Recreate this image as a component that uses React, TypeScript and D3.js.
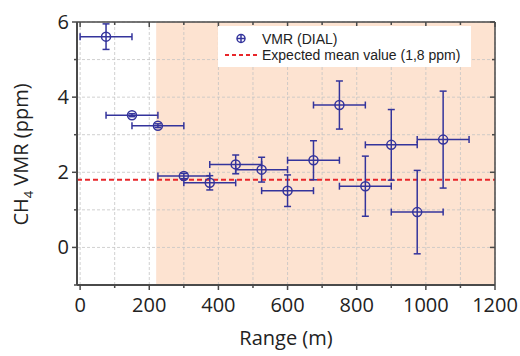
import React from 'react';
import * as d3 from 'd3';

// CH4 VMR retrieved by DIAL vs range
const ranges = [75, 150, 225, 300, 375, 450, 525, 600, 675, 750, 825, 900, 975, 1050];
const vmr = [5.61, 3.52, 3.24, 1.9, 1.72, 2.21, 2.07, 1.51, 2.32, 3.79, 1.63, 2.73, 0.94, 2.87];
const vmrErr = [0.34, 0.04, 0.05, 0.07, 0.19, 0.25, 0.33, 0.42, 0.52, 0.64, 0.8, 0.94, 1.11, 1.29];
const rangeErr = [75, 75, 75, 75, 75, 75, 75, 75, 75, 75, 75, 75, 75, 75];

const expectedMean = 1.8;
const shadeStart = 220;
const xTicks = [0, 200, 400, 600, 800, 1000, 1200];
const yTicks = [0, 2, 4, 6];
const xMinor = d3.range(0, 1201, 100);
const yMinor = d3.range(-1, 7, 1);

const width = 520;
const height = 356;
const margin = { top: 22, right: 25, bottom: 71, left: 77 };

const blue = '#34349c';
const axisColor = '#4a4a4a';
const font = '"Open Sans", sans-serif';

const App = () => {
    const x = d3.scaleLinear().domain([-9, 1200]).range([margin.left, width - margin.right]);
    const y = d3.scaleLinear().domain([-1, 6]).range([height - margin.bottom, margin.top]);
    const [x0, x1] = x.range();
    const [y0, y1] = y.range(); // y0 bottom, y1 top

    const points = ranges.map((r, i) => ({ r, v: vmr[i], ve: vmrErr[i], re: rangeErr[i] }));
    const cap = 3.5;

    return (
        <svg width={width} height={height} style={{ position: 'absolute', left: 0, top: 0 }}>
            <rect width={width} height={height} fill="#fff" />
            {/* shaded region */}
            <rect x={x(shadeStart)} y={y1} width={x1 - x(shadeStart)} height={y0 - y1} fill="#fde3d1" />

            {/* grid */}
            <g stroke="#c4c4c4" strokeWidth={0.8} strokeDasharray="3,2">
                {xMinor.map(t => (
                    <line key={'gx' + t} x1={x(t)} x2={x(t)} y1={y1} y2={y0} />
                ))}
                {yMinor.map(t => (
                    <line key={'gy' + t} x1={x0} x2={x1} y1={y(t)} y2={y(t)} />
                ))}
            </g>

            {/* expected mean */}
            <line x1={x0} x2={x1} y1={y(expectedMean)} y2={y(expectedMean)}
                stroke="#e8262a" strokeWidth={2} strokeDasharray="5,3" />

            {/* data with error bars */}
            <g stroke={blue} strokeWidth={1.5} fill="none">
                {points.map((d, i) => {
                    const cx = x(d.r);
                    const cy = y(d.v);
                    const xl = x(d.r - d.re);
                    const xr = x(d.r + d.re);
                    const yt = y(d.v + d.ve);
                    const yb = y(d.v - d.ve);
                    return (
                        <g key={i}>
                            <line x1={xl} x2={xr} y1={cy} y2={cy} />
                            <line x1={xl} x2={xl} y1={cy - cap} y2={cy + cap} />
                            <line x1={xr} x2={xr} y1={cy - cap} y2={cy + cap} />
                            <line x1={cx} x2={cx} y1={yt} y2={yb} />
                            <line x1={cx - cap} x2={cx + cap} y1={yt} y2={yt} />
                            <line x1={cx - cap} x2={cx + cap} y1={yb} y2={yb} />
                            <circle cx={cx} cy={cy} r={4.5} fill="#fde3d1" fillOpacity={0} />
                        </g>
                    );
                })}
            </g>

            {/* axes frame */}
            <line x1={x0} x2={x1} y1={y1} y2={y1} stroke={axisColor} strokeWidth={1.5} />
            <line x1={x1} x2={x1} y1={y1} y2={y0} stroke={axisColor} strokeWidth={1.5} />
            <line x1={x0} x2={x1} y1={y0} y2={y0} stroke={axisColor} strokeWidth={2} />
            <line x1={x0} x2={x0} y1={y1} y2={y0} stroke={axisColor} strokeWidth={2} />

            {/* x ticks */}
            <g stroke={axisColor} strokeWidth={1.5}>
                {xMinor.map(t => {
                    const major = xTicks.includes(t);
                    const len = major ? 5 : 3;
                    return (
                        <g key={'tx' + t}>
                            <line x1={x(t)} x2={x(t)} y1={y0} y2={y0 + len} />
                            <line x1={x(t)} x2={x(t)} y1={y1} y2={y1 + len} />
                        </g>
                    );
                })}
                {yMinor.map(t => {
                    const major = yTicks.includes(t);
                    const len = major ? 5 : 3;
                    return (
                        <g key={'ty' + t}>
                            <line x1={x0} x2={x0 - len} y1={y(t)} y2={y(t)} />
                            <line x1={x1} x2={x1 - len} y1={y(t)} y2={y(t)} />
                        </g>
                    );
                })}
            </g>

            {/* tick labels */}
            <g fontFamily={font} fontSize={20} fill="#222">
                {xTicks.map(t => (
                    <text key={'lx' + t} x={x(t)} y={y0 + 27} textAnchor="middle">{t}</text>
                ))}
                {yTicks.map(t => (
                    <text key={'ly' + t} x={x0 - 8} y={y(t) + 7} textAnchor="end">{t}</text>
                ))}
            </g>

            {/* axis titles */}
            <text x={(x0 + x1) / 2} y={height - 11} textAnchor="middle" fontFamily={font} fontSize={20} fill="#222">
                Range (m)
            </text>
            <text transform={`translate(28,${(y0 + y1) / 2 + 1}) rotate(-90)`} textAnchor="middle"
                fontFamily={font} fontSize={20} fill="#222">
                CH<tspan fontSize={13} dy={5}>4</tspan><tspan dy={-5}> VMR (ppm)</tspan>
            </text>

            {/* legend */}
            <g>
                <rect x={218} y={26} width={253} height={41} fill="#fff" />
                <g stroke={blue} strokeWidth={1.5} fill="none">
                    <circle cx={241} cy={38.5} r={4} />
                    <line x1={237} x2={245} y1={38.5} y2={38.5} />
                    <line x1={241} x2={241} y1={34.5} y2={42.5} />
                </g>
                <line x1={225} x2={259} y1={55} y2={55} stroke="#e8262a" strokeWidth={2} strokeDasharray="4,3" />
                <text x={262} y={43.5} fontFamily='"Liberation Sans", Arial, sans-serif' fontSize={14} fill="#222">VMR (DIAL)</text>
                <text x={262} y={60} fontFamily='"Liberation Sans", Arial, sans-serif' fontSize={14} fill="#222">Expected mean value (1,8 ppm)</text>
            </g>
        </svg>
    );
};

export default App;
